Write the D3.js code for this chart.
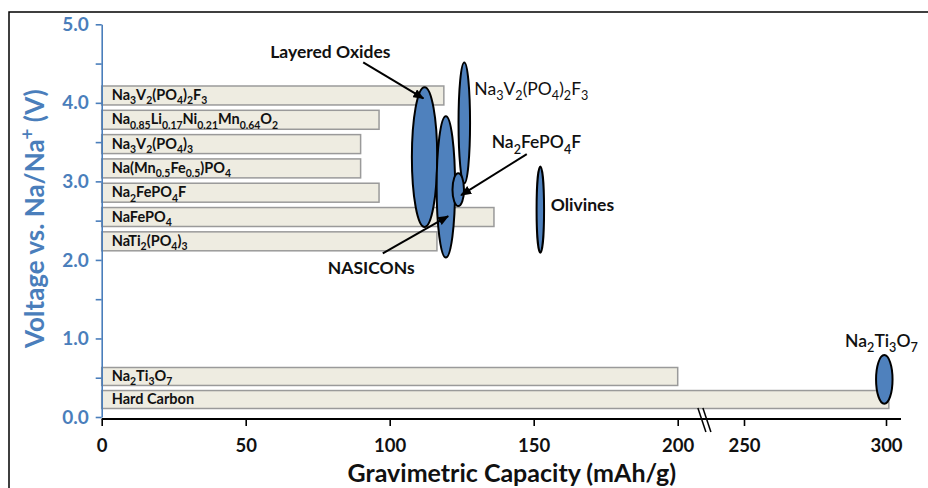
<!DOCTYPE html>
<html>
<head>
<meta charset="utf-8">
<script src="https://cdn.jsdelivr.net/npm/d3@7"></script>
<style>
  html, body { margin: 0; padding: 0; background: #fff; }
  svg { display: block; font-family: Lato, "Open Sans", sans-serif; }
</style>
</head>
<body>
<script>
// Cathode / anode materials shown as bars (theoretical capacity, mAh/g)
// "_" marks a subscript, "^" a superscript
var cathodeNames = ["Na_3V_2(PO_4)_2F_3", "Na_0.85Li_0.17Ni_0.21Mn_0.64O_2", "Na_3V_2(PO_4)_3",
    "Na(Mn_0.5Fe_0.5)PO_4", "Na_2FePO_4F", "NaFePO_4", "NaTi_2(PO_4)_3"];
var cathodeCapacity = [118.8, 96.3, 89.9, 89.9, 96.3, 136.2, 116.4];

var anodeNames = ["Na_2Ti_3O_7", "Hard Carbon"];
var anodeCapacity = [200, 301];

// Material families drawn as ellipses (centre +/- spread)
var familyNames = ["Layered Oxides", "NASICONs", "Na3V2(PO4)2F3", "Na2FePO4F", "Olivines", "Na2Ti3O7"];
var familyCapacity = [112.1, 119.5, 125.9, 123.8, 152.3, 299.4];
var familyCapacitySpread = [4.4, 3.2, 2.0, 2.0, 1.3, 2.9];
var familyVoltage = [3.31, 2.93, 3.745, 2.895, 2.64, 0.478];
var familyVoltageSpread = [0.89, 0.90, 0.77, 0.21, 0.55, 0.31];

// Annotation labels (in capacity / voltage units)
var labelText = ["Layered Oxides", "NASICONs", "Na_3V_2(PO_4)_2F_3", "Na_2FePO_4F", "Olivines", "Na_2Ti_3O_7"];
var labelCapacity = [79.4, 93.6, 129.4, 135.4, 155.9, 298.4];
var labelVoltage = [4.567, 1.827, 4.099, 3.42, 2.621, 0.892];

// Arrows: [capacity, voltage] start and tip
var arrowFrom = [[90.8, 4.516], [97.6, 2.082], [147.6, 3.347]];
var arrowTo = [[111.7, 4.057], [120.3, 2.557], [124.8, 2.825]];

// Axis ticks
var xTicks = [0, 50, 100, 150, 200, 250, 300];
var yTicks = [0, 0.5, 1, 1.5, 2, 2.5, 3, 3.5, 4, 4.5, 5];
var xBreakAt = 219;

var width = 928, height = 488;
var blue = "#4a7ebb";

var svg = d3.select("body").append("svg")
    .attr("width", width)
    .attr("height", height);

// broken x axis: 0-200 then 250-300
var x = d3.scaleLinear()
    .domain([0, 200, 250, 300])
    .range([101.7, 677.7, 744, 886]);

var y = d3.scaleLinear()
    .domain([0, 5])
    .range([417, 24.3]);

var cathodeBand = d3.scaleBand()
    .domain(cathodeNames)
    .range([86, 250.8])
    .paddingInner(0.22);

var anodeBand = d3.scaleBand()
    .domain(anodeNames)
    .range([367.5, 408.5])
    .paddingInner(0.22);

// write a formula with sub/superscripts into a text element
function formula(text, label, size) {
    var parts = label.split(/([_^][0-9.+]+)/).filter(s => s.length);
    var shift = 0;
    parts.forEach(function(p) {
        var t = text.append("tspan");
        var target = 0;
        if (p[0] == "_") {
            target = size * 0.3;
            p = p.slice(1);
            t.attr("font-size", size * 0.72);
        } else if (p[0] == "^") {
            target = -size * 0.4;
            p = p.slice(1);
            t.attr("font-size", size * 0.72);
        }
        t.attr("dy", target - shift).text(p);
        shift = target;
    });
}

// outer frame
svg.append("rect")
    .attr("x", 9).attr("y", 12)
    .attr("width", 940).attr("height", 500)
    .attr("fill", "none")
    .attr("stroke", "#000")
    .attr("stroke-width", 1.5);

// bars
function drawBars(names, values, band) {
    var g = svg.append("g");
    names.forEach(function(name, i) {
        g.append("rect")
            .attr("x", x(0))
            .attr("y", band(name))
            .attr("width", x(values[i]) - x(0))
            .attr("height", band.bandwidth())
            .attr("fill", "#eeece1")
            .attr("stroke", "#9a9a9a")
            .attr("stroke-width", 1.5);
        var t = g.append("text")
            .attr("x", x(0) + 10)
            .attr("y", band(name) + band.bandwidth() / 2 + 4.5)
            .attr("font-size", 14.5)
            .attr("font-weight", "bold")
            .attr("fill", "#111");
        formula(t, name, 14.5);
    });
}
drawBars(cathodeNames, cathodeCapacity, cathodeBand);
drawBars(anodeNames, anodeCapacity, anodeBand);

// ellipses
svg.append("g").selectAll("ellipse")
    .data(familyNames)
    .join("ellipse")
    .attr("cx", (d, i) => x(familyCapacity[i]))
    .attr("cy", (d, i) => y(familyVoltage[i]))
    .attr("rx", (d, i) => x(familyCapacity[i] + familyCapacitySpread[i]) - x(familyCapacity[i]))
    .attr("ry", (d, i) => y(familyVoltage[i] - familyVoltageSpread[i]) - y(familyVoltage[i]))
    .attr("fill", "#4f81bd")
    .attr("stroke", "#000")
    .attr("stroke-width", 2);

// arrows
svg.append("defs").append("marker")
    .attr("id", "head")
    .attr("markerUnits", "userSpaceOnUse")
    .attr("markerWidth", 11).attr("markerHeight", 9)
    .attr("refX", 10).attr("refY", 4.5)
    .attr("orient", "auto")
    .append("path")
    .attr("d", "M0,0L11,4.5L0,9z")
    .attr("fill", "#000");

svg.append("g").selectAll("line")
    .data(arrowFrom)
    .join("line")
    .attr("x1", d => x(d[0]))
    .attr("y1", d => y(d[1]))
    .attr("x2", (d, i) => x(arrowTo[i][0]))
    .attr("y2", (d, i) => y(arrowTo[i][1]))
    .attr("stroke", "#000")
    .attr("stroke-width", 2)
    .attr("marker-end", "url(#head)");

// annotation labels
var labelStyle = {
    "Layered Oxides": ["middle", "bold"],
    "NASICONs": ["middle", "bold"],
    "Na_3V_2(PO_4)_2F_3": ["start", "normal"],
    "Na_2FePO_4F": ["start", "600"],
    "Olivines": ["start", "bold"],
    "Na_2Ti_3O_7": ["middle", "600"]
};
labelText.forEach(function(label, i) {
    var t = svg.append("text")
        .attr("x", x(labelCapacity[i]))
        .attr("y", y(labelVoltage[i]))
        .attr("text-anchor", labelStyle[label][0])
        .attr("font-weight", labelStyle[label][1])
        .attr("font-size", 17.5)
        .attr("fill", "#111");
    formula(t, label, 17.5);
});

// y axis (blue)
var yAxis = svg.append("g")
    .attr("transform", `translate(${x(0)},0)`)
    .call(d3.axisLeft(y)
        .tickValues(yTicks)
        .tickSize(6)
        .tickSizeOuter(0)
        .tickPadding(7)
        .tickFormat(d => d % 1 == 0 ? d3.format(".1f")(d) : ""));
yAxis.selectAll("path, line").attr("stroke", blue).attr("stroke-width", 1.6);
yAxis.selectAll("text")
    .attr("fill", blue)
    .attr("font-size", 19)
    .attr("font-weight", "bold")
    .attr("font-family", "Lato, 'Open Sans', sans-serif");

// x axis (black)
var axisY = y(0) + 2;
var xAxis = svg.append("g")
    .attr("transform", `translate(0,${axisY})`)
    .call(d3.axisBottom(x)
        .tickValues(xTicks)
        .tickSize(7)
        .tickSizeOuter(0)
        .tickPadding(13)
        .tickFormat(d3.format("d")));
xAxis.select(".domain")
    .attr("d", `M${x(0)},0H${x(300) + 15}`)
    .attr("stroke-width", 2);
xAxis.selectAll("line").attr("stroke-width", 1.6);
xAxis.selectAll("text")
    .attr("fill", "#111")
    .attr("font-size", 18.5)
    .attr("font-weight", "bold")
    .attr("font-family", "Lato, 'Open Sans', sans-serif");

// axis break marks
[0, 5].forEach(function(off) {
    svg.append("line")
        .attr("x1", x(xBreakAt) - 5 + off).attr("y1", axisY - 11)
        .attr("x2", x(xBreakAt) + 3 + off).attr("y2", axisY + 13)
        .attr("stroke", "#000")
        .attr("stroke-width", 1.5);
});

// axis titles
svg.append("text")
    .attr("x", (x(0) + x(300)) / 2 + 18)
    .attr("y", 482)
    .attr("text-anchor", "middle")
    .attr("font-size", 25)
    .attr("font-weight", "bold")
    .attr("fill", "#111")
    .text("Gravimetric Capacity (mAh/g)");

var yTitle = svg.append("text")
    .attr("transform", `translate(44,${(y(0) + y(5)) / 2 - 2}) rotate(-90)`)
    .attr("text-anchor", "middle")
    .attr("font-size", 26)
    .attr("font-weight", "bold")
    .attr("fill", blue);
formula(yTitle, "Voltage vs. Na/Na^+ (V)", 26);
</script>
</body>
</html>
